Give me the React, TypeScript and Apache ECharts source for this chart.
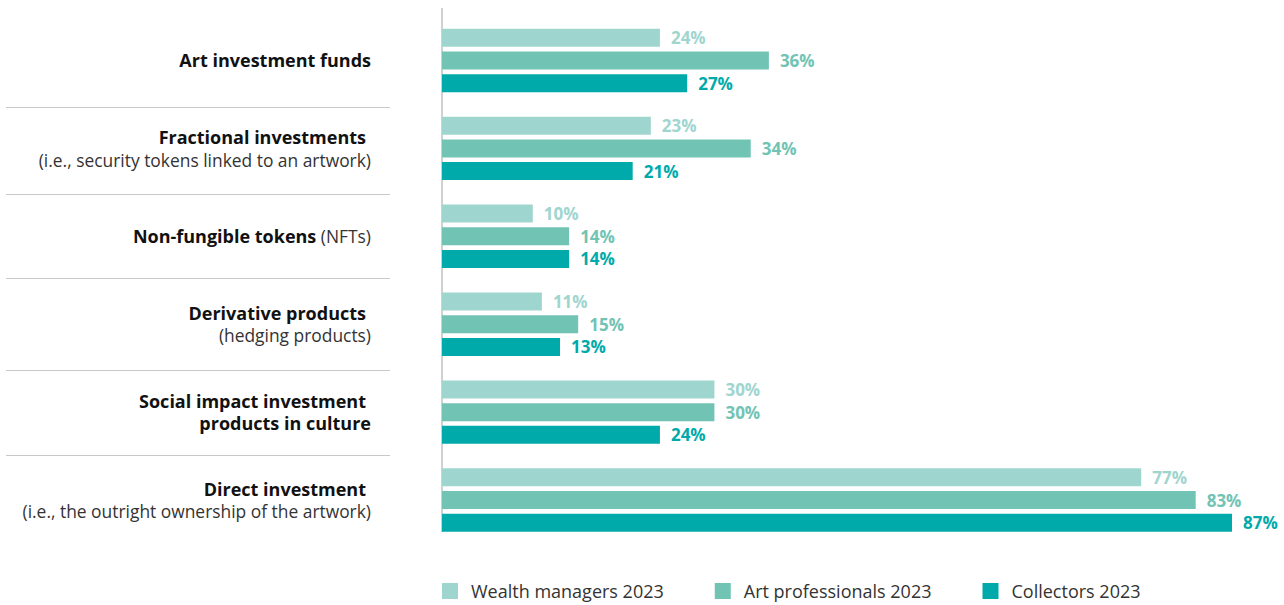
import React, { useEffect, useRef } from "react";
import * as echarts from "echarts";

const categories = [
  "Art investment funds",
  "Fractional investments",
  "Non-fungible tokens",
  "Derivative products",
  "Social impact investment products in culture",
  "Direct investment",
];
const labelLines = [
  "{b|Art investment funds}",
  "{bs|Fractional investments}\n{r|(i.e., security tokens linked to an artwork)}",
  "{b|Non-fungible tokens}{r| (NFTs)}",
  "{bs|Derivative products}\n{r|(hedging products)}",
  "{bs|Social impact investment}\n{b|products in culture}",
  "{bs|Direct investment}\n{r|(i.e., the outright ownership of the artwork)}",
];
const seriesNames = ["Wealth managers 2023", "Art professionals 2023", "Collectors 2023"];
const wealthManagers = [24, 23, 10, 11, 30, 77];
const artProfessionals = [36, 34, 14, 15, 30, 83];
const collectors = [27, 21, 14, 13, 24, 87];
const colors = ["#9fd5cf", "#71c3b4", "#00aaaa"];
const separatorYs = [107, 194, 278, 370, 455];

const FONT = "'Open Sans', 'Noto Sans', sans-serif";

export default function App() {
  const ref = useRef<HTMLDivElement>(null);
  useEffect(() => {
    if (!ref.current) return;
    const chart = echarts.init(ref.current, null, { renderer: "svg" });
    const data = [wealthManagers, artProfessionals, collectors];
    chart.setOption({
      animation: false,
      textStyle: { fontFamily: FONT },
      grid: { left: 442, top: 16.5, width: 790, height: 527.5, containLabel: false },
      xAxis: { type: "value", min: 0, max: 87, show: false },
      yAxis: {
        type: "category",
        data: categories,
        inverse: true,
        axisLine: { show: false },
        axisTick: { show: false },
        axisLabel: {
          margin: 71,
          align: "right",
          formatter: (_v: string, i: number) => labelLines[i],
          rich: {
            b: { fontFamily: FONT, fontWeight: "bold", fontSize: 18, color: "#111", lineHeight: 22.5 },
            bs: { fontFamily: FONT, fontWeight: "bold", fontSize: 18, color: "#111", lineHeight: 22.5, padding: [0, 5, 0, 0] },
            r: { fontFamily: FONT, fontWeight: "normal", fontSize: 17.4, color: "#333", lineHeight: 22.5 },
          },
        },
      },
      legend: {
        left: 437,
        top: 577,
        itemWidth: 16,
        itemHeight: 16,
        itemGap: 51,
        icon: "rect",
        textStyle: { fontFamily: FONT, fontSize: 18, color: "#333", padding: [0, 0, 0, 8] },
        data: seriesNames,
      },
      series: seriesNames.map((name, k) => ({
        name,
        type: "bar",
        data: data[k],
        barWidth: 18,
        barGap: "26%",
        itemStyle: { color: colors[k] },
        label: {
          show: true,
          position: "right",
          distance: 11,
          formatter: "{c}%",
          fontFamily: FONT,
          fontWeight: "bold",
          fontSize: 17,
          color: colors[k],
        },
      })),
      graphic: [
        {
          type: "line",
          shape: { x1: 442, y1: 8, x2: 442, y2: 532 },
          style: { stroke: "#d0d0d0", lineWidth: 2 },
        },
        ...separatorYs.map((y) => ({
          type: "line",
          shape: { x1: 6, y1: y + 0.5, x2: 390, y2: y + 0.5 },
          style: { stroke: "#c8c8c8", lineWidth: 1 },
        })),
      ],
    });
    return () => chart.dispose();
  }, []);
  return (
    <div
      ref={ref}
      style={{ position: "fixed", left: 0, top: 0, width: 1284, height: 605, background: "#fff" }}
    />
  );
}
